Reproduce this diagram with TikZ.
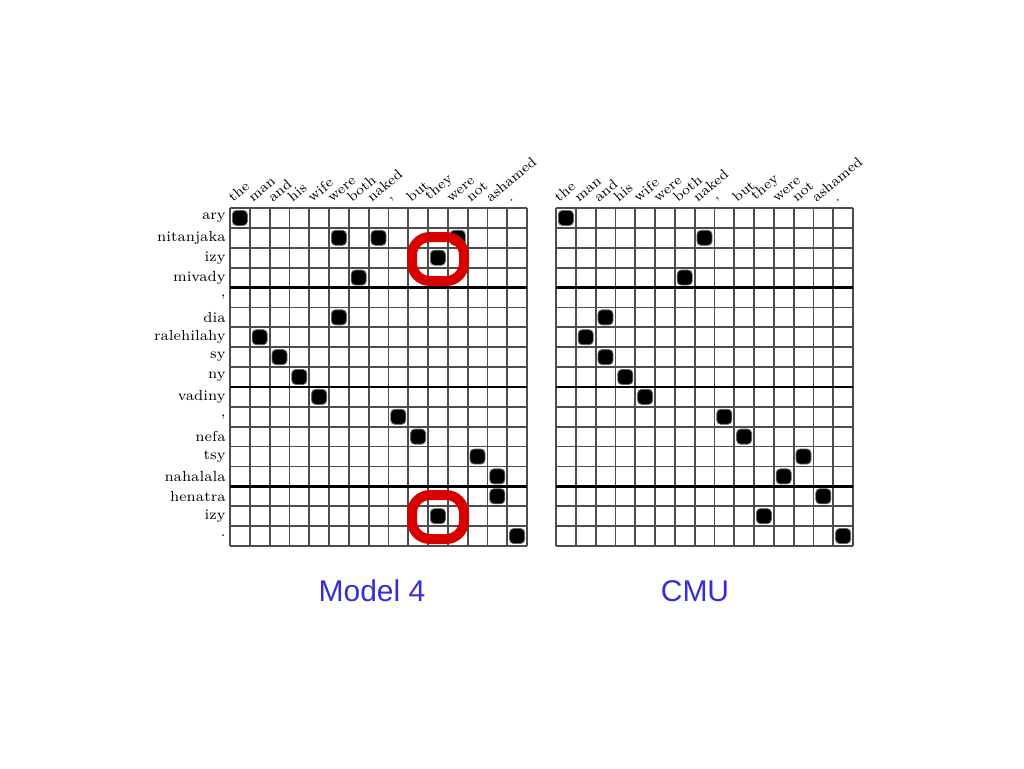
\documentclass[tikz,border=0pt]{standalone}
\usepackage{fontspec}
\newfontfamily\lsans{Liberation Sans}
\definecolor{titleblue}{RGB}{55,45,215}
\begin{document}
\begin{tikzpicture}[x=0.5pt,y=-0.5pt,
  gridline/.style={draw=black!70,line width=0.9pt},
  thickline/.style={draw=black,line width=1.4pt},
  dot/.style={fill=black,rounded corners=2pt,draw=black!60,line width=0.4pt},
  redring/.style={draw=red!85!black,line width=5pt,rounded corners=9pt},
  rowlab/.style={anchor=east,font=\fontsize{7.3}{8}\selectfont,inner sep=1.5pt},
  collab/.style={anchor=south west,rotate=40,font=\fontsize{7.1}{8}\selectfont,inner sep=1pt},
  title/.style={font=\lsans\fontsize{15}{18}\selectfont,text=titleblue}]
\useasboundingbox (0,0) rectangle (1024,768);
\def\cw{19.8}\def\rh{19.88}\def\ty{208}
\foreach \gx/\gn in {230/L,556/R}{
  \foreach \i in {0,...,15} \draw[gridline] ({\gx+\i*\cw},\ty) -- ({\gx+\i*\cw},{\ty+17*\rh});
  \foreach \j in {0,...,17} \draw[gridline] (\gx,{\ty+\j*\rh}) -- ({\gx+15*\cw},{\ty+\j*\rh});
  \foreach \j in {4,9,14} \draw[thickline] (\gx,{\ty+\j*\rh}) -- ({\gx+15*\cw},{\ty+\j*\rh});
  \foreach \w [count=\i from 0] in {the,man,and,his,wife,were,both,naked,{,},but,they,were,not,ashamed,.}
    \node[collab] (c\gn\i) at ({\gx+\i*\cw+3},{\ty-2}) {\w};
}
\foreach \w [count=\j from 0] in {ary,nitanjaka,izy,mivady,{,},dia,ralehilahy,sy,ny,vadiny,{,},nefa,tsy,nahalala,henatra,izy,.}
  \node[rowlab] (r\j) at (229,{\ty+(\j+0.5)*\rh}) {\w};
\foreach \c/\r in {0/0,5/1,7/1,11/1,10/2,6/3,5/5,1/6,2/7,3/8,4/9,8/10,9/11,12/12,13/13,13/14,10/15,14/16}
  \path[dot] ({230+(\c+0.5)*\cw-7.5},{\ty+(\r+0.5)*\rh-7.5}) rectangle +(15,15);
\foreach \c/\r in {0/0,7/1,6/3,2/5,1/6,2/7,3/8,4/9,8/10,9/11,12/12,11/13,13/14,10/15,14/16}
  \path[dot] ({556+(\c+0.5)*\cw-7.5},{\ty+(\r+0.5)*\rh-7.5}) rectangle +(15,15);
\draw[redring] (412,237) rectangle (464,281);
\draw[redring] (412,495) rectangle (464,539);
\node[title] (m4) at (372,591) {Model 4};
\node[title] (cmu) at (695,591) {CMU};
\end{tikzpicture}
\end{document}
